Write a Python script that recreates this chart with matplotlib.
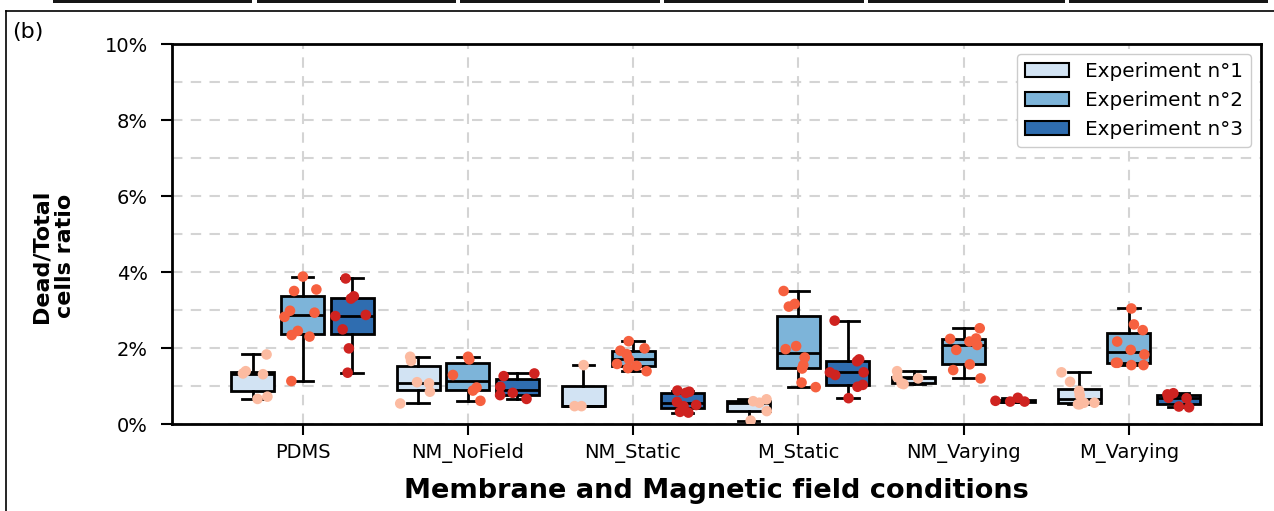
import numpy as np
import matplotlib.pyplot as plt
from matplotlib.patches import Patch, Rectangle
from matplotlib.lines import Line2D
from matplotlib.ticker import PercentFormatter, MultipleLocator

conditions = ["PDMS", "NM_NoField", "NM_Static", "M_Static", "NM_Varying", "M_Varying"]
experiments = ["Experiment n°1", "Experiment n°2", "Experiment n°3"]

# dead / total cells ratio (%) for each image, one list per condition
exp1_ratios = [
    [0.66, 0.72, 1.31, 1.33, 1.39, 1.83],
    [0.54, 0.85, 1.07, 1.10, 1.66, 1.77],
    [0.47, 0.47, 1.55],
    [0.09, 0.34, 0.56, 0.60, 0.65],
    [1.05, 1.07, 1.20, 1.23, 1.39],
    [0.52, 0.52, 0.56, 0.56, 0.76, 0.87, 1.11, 1.36],
]
exp2_ratios = [
    [1.13, 2.30, 2.34, 2.45, 2.82, 2.93, 2.98, 3.50, 3.54, 3.88],
    [0.61, 0.88, 0.96, 1.29, 1.70, 1.77],
    [1.39, 1.47, 1.53, 1.58, 1.70, 1.84, 1.93, 1.99, 2.18],
    [0.97, 1.09, 1.46, 1.55, 1.75, 1.97, 2.05, 3.09, 3.16, 3.50],
    [1.20, 1.42, 1.57, 1.95, 2.08, 2.17, 2.24, 2.25, 2.52],
    [1.55, 1.55, 1.61, 1.61, 1.83, 1.95, 2.17, 2.47, 2.62, 3.04],
]
exp3_ratios = [
    [1.35, 1.99, 2.49, 2.84, 2.87, 3.30, 3.36, 3.83],
    [0.66, 0.76, 0.82, 0.98, 1.26, 1.33],
    [0.30, 0.32, 0.47, 0.50, 0.58, 0.82, 0.85, 0.88],
    [0.68, 0.98, 1.03, 1.29, 1.36, 1.36, 1.65, 1.70, 2.72],
    [0.59, 0.59, 0.61, 0.69],
    [0.44, 0.46, 0.68, 0.69, 0.78, 0.81],
]

box_colors = ["#d2e3f3", "#7db4d9", "#2f6db0"]
dot_colors = ["#fcbba1", "#f6603f", "#cf2320"]

W, H = 1274, 511
fig = plt.figure(figsize=(W / 100, H / 100), dpi=100)
ax = fig.add_axes([172 / W, 1 - 424 / H, (1261 - 172) / W, (424 - 44) / H])

rng = np.random.default_rng(7)
x = np.arange(len(conditions))
offsets = [-0.3, 0.0, 0.3]
all_data = [exp1_ratios, exp2_ratios, exp3_ratios]

for k, data in enumerate(all_data):
    pos = x + offsets[k]
    ax.boxplot(data, positions=pos, widths=0.26, patch_artist=True,
               whis=(0, 100), showfliers=False, manage_ticks=False,
               boxprops=dict(facecolor=box_colors[k], edgecolor="black", linewidth=2),
               medianprops=dict(color="black", linewidth=2),
               whiskerprops=dict(color="black", linewidth=2),
               capprops=dict(color="black", linewidth=2),
               zorder=3)
    for p, vals in zip(pos, data):
        jit = rng.uniform(-0.11, 0.11, len(vals))
        ax.scatter(p + jit, vals, s=58, color=dot_colors[k], edgecolors="none",
                   zorder=4)

ax.set_xlim(-0.79, 5.80)
ax.set_ylim(0, 10)
ax.set_xticks(x)
ax.set_xticklabels(conditions, fontsize=14)
ax.yaxis.set_major_locator(MultipleLocator(2))
ax.yaxis.set_minor_locator(MultipleLocator(1))
ax.yaxis.set_major_formatter(PercentFormatter(xmax=100, decimals=0))
ax.tick_params(axis="y", which="minor", length=0)
ax.tick_params(axis="both", which="major", labelsize=14, width=1.5, length=8)
ax.tick_params(axis="x", which="major", pad=6)
ax.tick_params(axis="y", which="major", pad=9.5)
ax.grid(True, which="both", axis="y", color="#d4d4d4", linestyle=(0, (5, 4)), linewidth=1.5)
ax.grid(True, which="major", axis="x", color="#d4d4d4", linestyle=(0, (5, 4)), linewidth=1.5)
ax.set_axisbelow(True)
for s in ax.spines.values():
    s.set_linewidth(2)

ax.set_xlabel("Membrane and Magnetic field conditions", fontsize=19.5,
              fontweight="bold", labelpad=10.5)
ax.set_ylabel("Dead/Total\ncells ratio", fontsize=16, fontweight="bold")
ax.yaxis.set_label_coords(-0.089, 0.442)

handles = [Patch(facecolor=c, edgecolor="black", linewidth=1.5) for c in box_colors]
ax.legend(handles, experiments, loc="upper right", fontsize=14.4, framealpha=1,
          handlelength=2.2)

# panel frame and strip of the panel above
fig.add_artist(Line2D([6 / W, 1], [1 - 11 / H, 1 - 11 / H], color="black", lw=1.2,
                      transform=fig.transFigure))
fig.add_artist(Line2D([6 / W, 6 / W], [0, 1 - 11 / H], color="black", lw=1.2,
                      transform=fig.transFigure))
for x0, x1 in [(53, 252), (257, 456), (460, 660), (664, 864), (868, 1065), (1069, 1268)]:
    fig.add_artist(Rectangle((x0 / W, 1 - 3 / H), (x1 - x0) / W, 3 / H,
                             facecolor="#161616", edgecolor="none",
                             transform=fig.transFigure))
fig.text(12 / W, 1 - 32 / H, "(b)", fontsize=16, va="center", ha="left")

fig.savefig("out.png", dpi=100)
